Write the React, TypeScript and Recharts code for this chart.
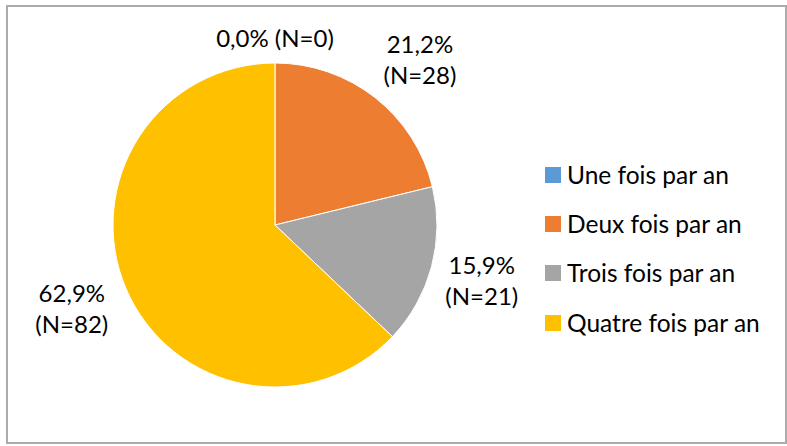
import React from "react";
import { PieChart, Pie, Cell, Legend } from "recharts";

const categories = ["Une fois par an", "Deux fois par an", "Trois fois par an", "Quatre fois par an"];
const percentValues = [0.0, 21.2, 15.9, 62.9];
const counts = [0, 28, 21, 82];
const colors = ["#5B9BD5", "#ED7D31", "#A5A5A5", "#FFC000"];
const labelOffsets = [26, 58, 52, 58];
const labelNudgeX = [0, 9, 0, -1];
const labelNudgeY = [0, 7, 0, -3];

const data = categories.map((name, i) => ({ name, value: percentValues[i], n: counts[i] }));

const FONT = "Lato, 'Noto Sans', sans-serif";

const fmt = (v: number) => v.toFixed(1).replace(".", ",") + "%";

const renderLabel = (props: any) => {
  const { cx, cy, midAngle, outerRadius, index } = props;
  const RAD = Math.PI / 180;
  const r = outerRadius + labelOffsets[index];
  const x = cx + r * Math.cos(-midAngle * RAD) + labelNudgeX[index];
  const y = cy + r * Math.sin(-midAngle * RAD) + labelNudgeY[index];
  const d = data[index];
  const line1 = fmt(d.value);
  const line2 = `(N=${d.n})`;
  if (index === 0) {
    return (
      <text x={x} y={y} textAnchor="middle" dominantBaseline="central" fill="#000" fontSize={24} fontFamily={FONT}>
        {line1 + " " + line2}
      </text>
    );
  }
  return (
    <text x={x} y={y} textAnchor="middle" fill="#000" fontSize={24} fontFamily={FONT}>
      <tspan x={x} dy={-16} dominantBaseline="central">{line1}</tspan>
      <tspan x={x} dy={31} dominantBaseline="central">{line2}</tspan>
    </text>
  );
};

const renderLegend = () => (
  <div style={{ fontFamily: FONT, fontSize: 24.5, color: "#000" }}>
    {categories.map((c, i) => (
      <div key={c} style={{ display: "flex", alignItems: "center", height: 49.3 }}>
        <div style={{ width: 16, height: 16, background: colors[i], marginRight: 6 }} />
        <span style={{ lineHeight: "26px" }}>{c}</span>
      </div>
    ))}
  </div>
);

export default function App() {
  return (
    <div style={{ position: "absolute", left: 0, top: 0, width: 787, height: 446, background: "#fff" }}>
      <div
        style={{
          position: "absolute",
          left: 6,
          top: 5,
          width: 781,
          height: 439,
          border: "2px solid #ababab",
          boxSizing: "border-box",
        }}
      />
      <div style={{ position: "absolute", left: 0, top: 0 }}>
        <PieChart width={787} height={446} margin={{ top: 0, right: 0, bottom: 0, left: 0 }}>
          <Pie
            data={data}
            dataKey="value"
            nameKey="name"
            cx={275}
            cy={225}
            outerRadius={162}
            startAngle={90}
            endAngle={-270}
            stroke="#fff"
            strokeWidth={1}
            label={renderLabel}
            labelLine={false}
            isAnimationActive={false}
          >
            {data.map((d, i) => (
              <Cell key={d.name} fill={colors[i]} />
            ))}
          </Pie>
          <Legend
            content={renderLegend}
            layout="vertical"
            wrapperStyle={{ position: "absolute", left: 545, top: 150, width: 240 }}
          />
        </PieChart>
      </div>
    </div>
  );
}
